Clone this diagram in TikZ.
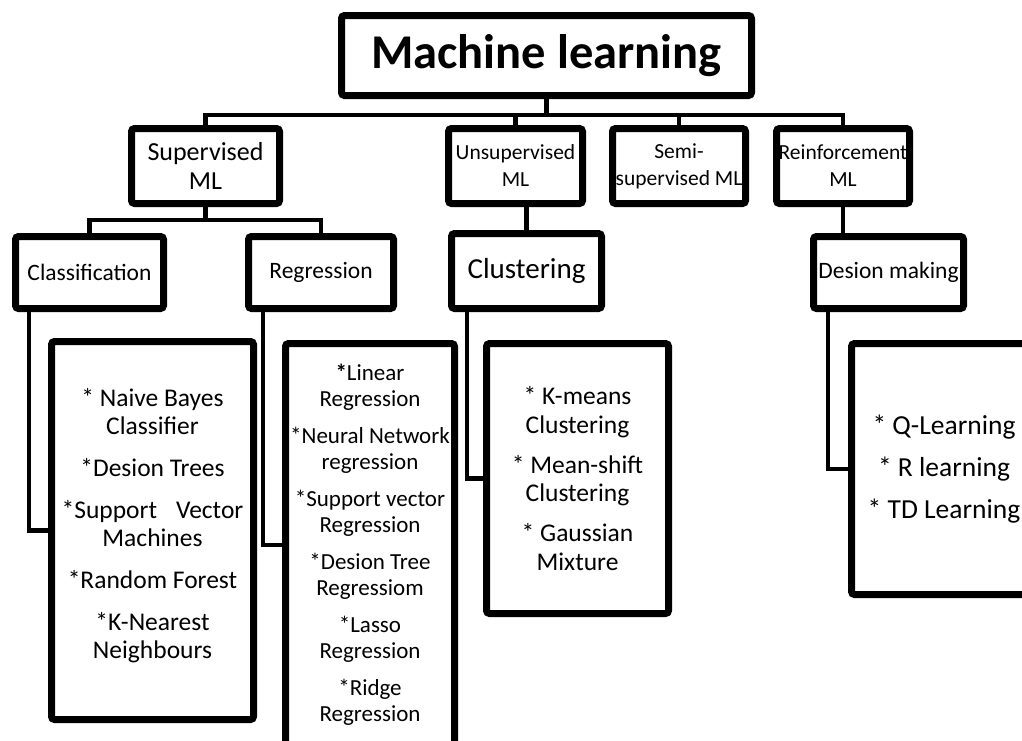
\documentclass[tikz,border=0pt]{standalone}
\usepackage{fontspec}
\setmainfont{Carlito}
\usetikzlibrary{positioning, calc}

\begin{document}
\begin{tikzpicture}[x=1pt, y=-1pt,
	box/.style={draw, line width=7pt, rounded corners=3pt, inner sep=0pt, align=center, fill=white},
	link/.style={line width=4.5pt}]
	\useasboundingbox (0,0) rectangle (1022,740);
	\clip (0,0) rectangle (1022,740);
	\node[box, minimum width=410pt, minimum height=80pt, font=\fontsize{48.5}{52}\selectfont\bfseries] (ml) at (546.5,55.5) {Machine learning};
	\node[box, minimum width=148pt, minimum height=75pt, font=\fontsize{26}{29}\selectfont] (sup) at (205.5,166) {Supervised\\ML};
	\node[box, minimum width=134pt, minimum height=75pt, font=\fontsize{21.5}{27}\selectfont] (uns) at (515.5,166) {Unsupervised\\ML};
	\node[box, minimum width=133pt, minimum height=75pt, font=\fontsize{21.5}{27}\selectfont] (semi) at (679,166) {Semi-\\supervised ML};
	\node[box, minimum width=133pt, minimum height=75pt, font=\fontsize{21.5}{27}\selectfont] (rl) at (843,166) {Reinforcement\\ML};
	\node[box, minimum width=148pt, minimum height=72pt, font=\fontsize{23.5}{28}\selectfont] (cls) at (89.5,272.5) {Classification};
	\node[box, minimum width=145pt, minimum height=72pt, font=\fontsize{23.5}{28}\selectfont] (reg) at (321,272.5) {Regression};
	\node[box, minimum width=150pt, minimum height=75pt, font=\fontsize{29}{34}\selectfont] (clu) at (526.5,271) {Clustering};
	\node[box, minimum width=150pt, minimum height=72pt, font=\fontsize{23.5}{28}\selectfont] (dm) at (888.5,272.5) {Desion making};
	\node[box, minimum width=202pt, minimum height=378pt, font=\fontsize{25.5}{28}\selectfont] (clsl) at (152.5,530.5)
		{* Naive Bayes\\Classifier\\[14pt]*Desion Trees\\[14pt]*Support\hspace{19pt}Vector\\Machines\\[14pt]*Random Forest\\[14pt]*K-Nearest\\Neighbours\\[-14pt]\mbox{}};
	\node[box, minimum width=169pt, minimum height=403pt, font=\fontsize{23}{26}\selectfont] (regl) at (370,545)
		{\textbf{*}Linear\\Regression\\[11pt]*Neural Network\\regression\\[11pt]*Support vector\\Regression\\[11pt]*Desion Tree\\Regressiom\\[11pt]*Lasso\\Regression\\[11pt]*Ridge\\Regression};
	\node[box, minimum width=182pt, minimum height=270pt, font=\fontsize{25.5}{28.5}\selectfont] (clul) at (577.5,478.5)
		{* K-means\\Clustering\\[11.5pt]* Mean-shift\\Clustering\\[11.5pt]* Gaussian\\Mixture};
	\node[box, minimum width=185pt, minimum height=251pt, font=\fontsize{27.5}{42}\selectfont] (rll) at (944,469)
		{* Q-Learning\\* R learning\\* TD Learning};
	\foreach \n in {sup, uns, semi, rl}
		\draw[link] (ml.south) -- ++(0,16) -| (\n.north);
	\foreach \n in {cls, reg}
		\draw[link] (sup.south) -- ++(0,13) -| (\n.north);
	\draw[link] (clu.north) -- (clu.north |- uns.south);
	\draw[link] (rl.south) -- (rl.south |- dm.north);
	\draw[link] ([xshift=17pt]cls.south west) |- (clsl.west);
	\draw[link] ([xshift=18pt]reg.south west) |- (regl.west);
	\draw[link] ([xshift=19pt]clu.south west) |- (clul.west);
	\draw[link] ([xshift=18pt]dm.south west) |- (rll.west);
\end{tikzpicture}
\end{document}
